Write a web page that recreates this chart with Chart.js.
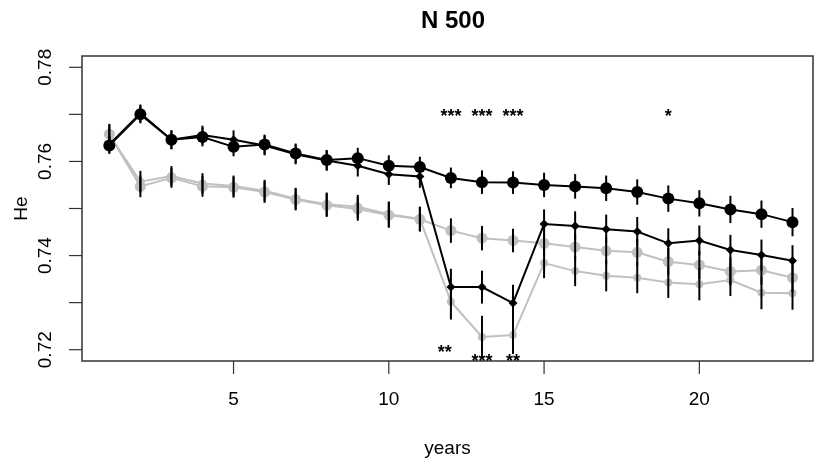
<!DOCTYPE html>
<html>
<head>
<meta charset="utf-8">
<script src="https://cdn.jsdelivr.net/npm/chart.js@4/dist/chart.umd.min.js"></script>
<style>
  html, body { margin: 0; padding: 0; background: #fff; }
  #wrap { width: 819px; height: 467px; }
</style>
</head>
<body>
<div id="wrap"><canvas id="heChart" width="819" height="467"></canvas></div>
<script>
// He over years, N 500

const years = [1,2,3,4,5,6,7,8,9,10,11,12,13,14,15,16,17,18,19,20,21,22,23];

// black, large dots
const heA  = [0.7634,0.7700,0.7646,0.7652,0.7631,0.7636,0.7617,0.7603,0.7607,0.7591,0.7588,0.7565,0.7556,0.7555,0.7550,0.7547,0.7543,0.7535,0.7521,0.7511,0.7498,0.7488,0.7471];
const errA = [0.0018,0.0019,0.0020,0.0020,0.0020,0.0021,0.0021,0.0021,0.0022,0.0022,0.0022,0.0022,0.0025,0.0024,0.0026,0.0026,0.0027,0.0027,0.0028,0.0028,0.0029,0.0029,0.0030];
// black, small points
const heB  = [0.7636,0.7702,0.7646,0.7656,0.7646,0.7634,0.7615,0.7602,0.7591,0.7573,0.7568,0.7333,0.7333,0.7299,0.7467,0.7463,0.7456,0.7451,0.7426,0.7432,0.7412,0.7401,0.7389];
const errB = [0.0018,0.0019,0.0020,0.0020,0.0020,0.0021,0.0021,0.0022,0.0023,0.0023,0.0024,0.0039,0.0035,0.0039,0.0031,0.0031,0.0031,0.0031,0.0032,0.0032,0.0032,0.0033,0.0033];
// grey, large dots
const heC  = [0.7658,0.7547,0.7565,0.7547,0.7545,0.7535,0.7519,0.7507,0.7499,0.7486,0.7477,0.7453,0.7437,0.7432,0.7426,0.7418,0.7410,0.7407,0.7387,0.7380,0.7366,0.7369,0.7353];
const errC = [0.0022,0.0023,0.0021,0.0022,0.0022,0.0023,0.0023,0.0025,0.0025,0.0027,0.0026,0.0026,0.0026,0.0025,0.0028,0.0028,0.0029,0.0029,0.0029,0.0030,0.0030,0.0031,0.0031];
// grey, small points
const heD  = [0.7656,0.7557,0.7569,0.7553,0.7548,0.7538,0.7521,0.7509,0.7504,0.7488,0.7478,0.7302,0.7227,0.7231,0.7384,0.7367,0.7357,0.7353,0.7343,0.7339,0.7348,0.7321,0.7320];
const errD = [0.0022,0.0023,0.0021,0.0022,0.0022,0.0023,0.0023,0.0025,0.0025,0.0027,0.0026,0.0038,0.0045,0.0040,0.0032,0.0032,0.0033,0.0033,0.0033,0.0034,0.0034,0.0035,0.0035];

// significance marks
const sigTopX = [12, 13, 14, 19];
const sigTopLabel = ['***', '***', '***', '*'];
const sigTopY = 0.7706;
const sigBotX = [11.8, 13, 14];
const sigBotLabel = ['**', '***', '**'];
const sigBotY = [0.7204, 0.7185, 0.7185];

// axes
const xTicks = [5, 10, 15, 20];
const yTicks = [0.72, 0.73, 0.74, 0.75, 0.76, 0.77, 0.78];
const yTickLabels = ['0.72', '', '0.74', '', '0.76', '', '0.78'];

const GREY = 'rgb(192,192,192)';
const FONT = '"Liberation Sans", Arial, Helvetica, sans-serif';

const pts = (ys) => years.map((x, i) => ({ x: x, y: ys[i] }));

const series = [
  { label: 'A', data: pts(heA), err: errA, borderColor: '#000', backgroundColor: '#000', pointRadius: 6, pointStyle: 'circle', order: 0 },
  { label: 'B', data: pts(heB), err: errB, borderColor: '#000', backgroundColor: '#000', pointRadius: 4.5, pointStyle: 'rectRot', order: 1 },
  { label: 'C', data: pts(heC), err: errC, borderColor: GREY, backgroundColor: GREY, pointRadius: 5.5, pointStyle: 'circle', order: 2 },
  { label: 'D', data: pts(heD), err: errD, borderColor: GREY, backgroundColor: GREY, pointRadius: 4, pointStyle: 'circle', order: 3 }
];

const rPlot = {
  id: 'rPlot',
  afterDatasetsDraw(chart) {
    const c = chart.ctx;
    const a = chart.chartArea;
    const xs = chart.scales.x, ys = chart.scales.y;

    // error bars
    c.save();
    c.beginPath();
    c.rect(a.left, a.top, a.right - a.left, a.bottom - a.top);
    c.clip();
    c.strokeStyle = '#000';
    c.lineWidth = 2;
    series.forEach(s => {
      s.data.forEach((p, i) => {
        const px = xs.getPixelForValue(p.x);
        c.beginPath();
        c.moveTo(px, ys.getPixelForValue(p.y - s.err[i]));
        c.lineTo(px, ys.getPixelForValue(p.y + s.err[i]));
        c.stroke();
      });
    });
    c.restore();

    c.save();
    // box
    c.strokeStyle = '#333';
    c.lineWidth = 1.5;
    c.strokeRect(a.left, a.top, a.right - a.left, a.bottom - a.top);

    // x axis
    c.lineWidth = 1.2;
    c.fillStyle = '#000';
    c.font = '19px ' + FONT;
    c.textAlign = 'center';
    c.textBaseline = 'alphabetic';
    xTicks.forEach(t => {
      const px = xs.getPixelForValue(t);
      c.beginPath();
      c.moveTo(px, a.bottom);
      c.lineTo(px, a.bottom + 13);
      c.stroke();
      c.fillText(String(t), px, 405);
    });

    // y axis
    yTicks.forEach((t, i) => {
      const py = ys.getPixelForValue(t);
      c.beginPath();
      c.moveTo(a.left, py);
      c.lineTo(a.left - 13, py);
      c.stroke();
      if (yTickLabels[i]) {
        c.save();
        c.translate(51, py);
        c.rotate(-Math.PI / 2);
        c.fillText(yTickLabels[i], 0, 0);
        c.restore();
      }
    });

    // axis titles
    c.fillText('years', (a.left + a.right) / 2, 454);
    c.save();
    c.translate(27, (a.top + a.bottom) / 2);
    c.rotate(-Math.PI / 2);
    c.fillText('He', 0, 0);
    c.restore();

    // main title
    c.font = 'bold 24px ' + FONT;
    c.fillText('N 500', 453, 28);

    // significance stars
    c.font = 'bold 18px ' + FONT;
    sigTopX.forEach((x, i) => {
      c.fillText(sigTopLabel[i], xs.getPixelForValue(x), ys.getPixelForValue(sigTopY) + 10);
    });
    sigBotX.forEach((x, i) => {
      c.fillText(sigBotLabel[i], xs.getPixelForValue(x), ys.getPixelForValue(sigBotY[i]) + 10);
    });
    c.restore();
  }
};

new Chart(document.getElementById('heChart'), {
  type: 'line',
  data: {
    datasets: series.map(s => ({
      label: s.label,
      data: s.data,
      borderColor: s.borderColor,
      backgroundColor: s.backgroundColor,
      pointBackgroundColor: s.backgroundColor,
      pointBorderWidth: 0,
      pointRadius: s.pointRadius,
      pointStyle: s.pointStyle,
      borderWidth: 2,
      tension: 0,
      fill: false,
      order: s.order
    }))
  },
  options: {
    responsive: false,
    animation: false,
    devicePixelRatio: 1,
    layout: { padding: { left: 82, right: 1, top: 56, bottom: 106 } },
    plugins: { legend: { display: false }, tooltip: { enabled: false } },
    scales: {
      x: { type: 'linear', min: 0.12, max: 23.66, display: false },
      y: { type: 'linear', min: 0.7176, max: 0.7824, display: false }
    }
  },
  plugins: [rPlot]
});
</script>
</body>
</html>
